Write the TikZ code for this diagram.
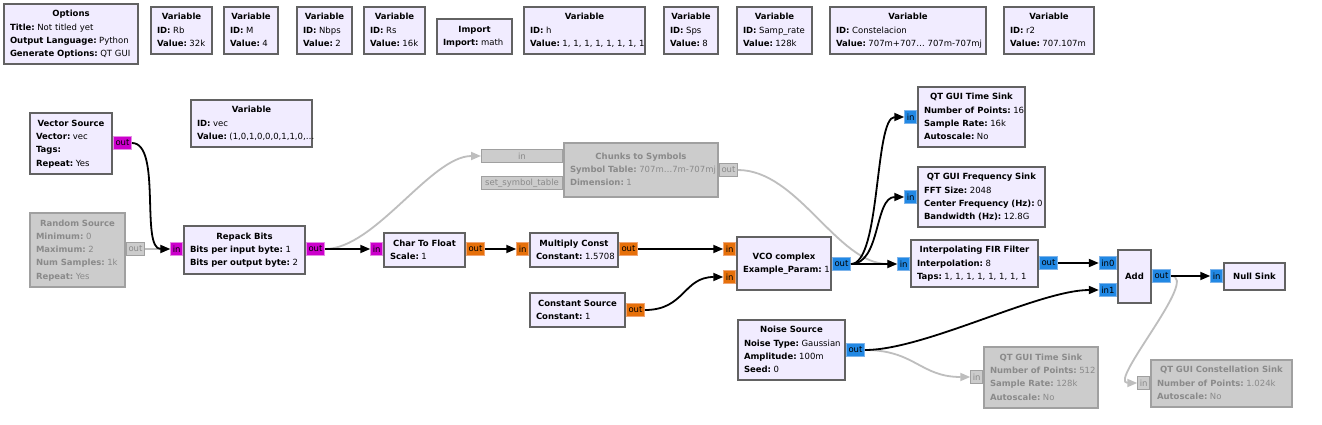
\documentclass[tikz,border=0pt]{standalone}
\usepackage{fontspec}
\setmainfont{DejaVu Sans}
\usetikzlibrary{arrows.meta}
\definecolor{blkfill}{RGB}{241,236,255}
\definecolor{blkline}{RGB}{98,98,98}
\definecolor{disfill}{RGB}{204,204,204}
\definecolor{disline}{RGB}{160,160,160}
\definecolor{distext}{RGB}{138,138,138}
\definecolor{bytefill}{RGB}{204,0,204}
\definecolor{byteline}{RGB}{228,140,228}
\definecolor{fltfill}{RGB}{230,112,10}
\definecolor{fltline}{RGB}{240,165,115}
\definecolor{cpxfill}{RGB}{33,136,228}
\definecolor{cpxline}{RGB}{125,180,235}
\definecolor{diswire}{RGB}{190,190,190}
\newcommand{\ttl}[1]{\makebox[\linewidth]{\textbf{#1}\strut}}
\newcommand{\kv}[2]{\mbox{\textbf{#1:}\hspace{2.5pt}#2}\strut}
\tikzstyle{every node}=[font=\fontsize{8.5}{13.3}\selectfont]
\tikzstyle{blk}=[draw=blkline, line width=2pt, fill=blkfill, anchor=north west, inner xsep=6pt, inner ysep=0pt, align=left]
\tikzstyle{dis}=[draw=disline, fill=disfill, text=distext]
\tikzstyle{prt}=[draw, line width=1pt, inner xsep=2pt, inner ysep=0pt, minimum height=13pt]
\tikzstyle{bport}=[prt, fill=bytefill, draw=byteline]
\tikzstyle{fport}=[prt, fill=fltfill, draw=fltline]
\tikzstyle{cport}=[prt, fill=cpxfill, draw=cpxline]
\tikzstyle{dport}=[prt, fill=disfill, draw=disline, text=distext]
\tikzstyle{wire}=[line width=1.8pt, -{Triangle[length=10pt,width=8pt]}]
\tikzstyle{diswire}=[wire, color=diswire]

\begin{document}
\begin{tikzpicture}[x=1pt,y=-1pt]
	\path[fill=white, use as bounding box] (0,0) rectangle (1322,425);
	% top row
	\node[blk, minimum width=134pt, minimum height=60pt, text width=122pt] (opts) at (3,3) {\ttl{Options}\\\kv{Title}{Not titled yet}\\\kv{Output Language}{Python}\\\kv{Generate Options}{QT GUI}};
	\node[blk, minimum width=61pt, minimum height=47pt, text width=49pt] (rb) at (150,6) {\ttl{Variable}\\\kv{ID}{Rb}\\\kv{Value}{32k}};
	\node[blk, minimum width=54pt, minimum height=47pt, text width=42pt] (m) at (223,6) {\ttl{Variable}\\\kv{ID}{M}\\\kv{Value}{4}};
	\node[blk, minimum width=55pt, minimum height=47pt, text width=43pt] (nbps) at (296,6) {\ttl{Variable}\\\kv{ID}{Nbps}\\\kv{Value}{2}};
	\node[blk, minimum width=61pt, minimum height=47pt, text width=49pt] (rs) at (363,6) {\ttl{Variable}\\\kv{ID}{Rs}\\\kv{Value}{16k}};
	\node[blk, minimum width=75pt, minimum height=35pt, text width=63pt] (imp) at (436,18) {\ttl{Import}\\\kv{Import}{math}};
	\node[blk, minimum width=121pt, minimum height=47pt, text width=109pt] (h) at (523,6) {\ttl{Variable}\\\kv{ID}{h}\\\kv{Value}{1, 1, 1, 1, 1, 1, 1, 1}};
	\node[blk, minimum width=54pt, minimum height=47pt, text width=42pt] (sps) at (663,6) {\ttl{Variable}\\\kv{ID}{Sps}\\\kv{Value}{8}};
	\node[blk, minimum width=75pt, minimum height=47pt, text width=63pt] (samp) at (736,6) {\ttl{Variable}\\\kv{ID}{Samp\_rate}\\\kv{Value}{128k}};
	\node[blk, minimum width=156pt, minimum height=47pt, text width=144pt] (const) at (829,6) {\ttl{Variable}\\\kv{ID}{Constelacion}\\\kv{Value}{707m+707… 707m-707mj}};
	\node[blk, minimum width=90pt, minimum height=47pt, text width=78pt] (r2) at (1003,6) {\ttl{Variable}\\\kv{ID}{r2}\\\kv{Value}{707.107m}};
	\node[blk, minimum width=121pt, minimum height=47pt, text width=109pt] (vec) at (190,99) {\ttl{Variable}\\\kv{ID}{vec}\\\kv{Value}{(1,0,1,0,0,0,1,1,0,…}};
	% blocks
	\node[blk, minimum width=82pt, minimum height=61pt, text width=70pt] (vecsrc) at (29,112) {\ttl{Vector Source}\\\kv{Vector}{vec}\\\kv{Tags}{}\\\kv{Repeat}{Yes}};
	\node[blk, dis, minimum width=95pt, minimum height=74pt, text width=83pt] (rndsrc) at (29,212) {\ttl{Random Source}\\\kv{Minimum}{0}\\\kv{Maximum}{2}\\\kv{Num Samples}{1k}\\\kv{Repeat}{Yes}};
	\node[blk, minimum width=121pt, minimum height=48pt, text width=109pt] (repack) at (183,225) {\ttl{Repack Bits}\\\kv{Bits per input byte}{1}\\\kv{Bits per output byte}{2}};
	\node[blk, dis, minimum width=154pt, minimum height=54pt, text width=142pt] (chunks) at (563,142) {\ttl{Chunks to Symbols}\\\kv{Symbol Table}{707m…7m-707mj}\\\kv{Dimension}{1}};
	\node[blk, minimum width=81pt, minimum height=34pt, text width=69pt] (ctof) at (383,232) {\ttl{Char To Float}\\\kv{Scale}{1}};
	\node[blk, minimum width=88pt, minimum height=34pt, text width=76pt] (mult) at (529,232) {\ttl{Multiply Const}\\\kv{Constant}{1.5708}};
	\node[blk, minimum width=95pt, minimum height=34pt, text width=83pt] (cnst) at (529,292) {\ttl{Constant Source}\\\kv{Constant}{1}};
	\node[blk, minimum width=94pt, minimum height=53pt, text width=82pt] (vco) at (736,236) {\ttl{VCO complex}\\\kv{Example\_Param}{1}};
	\node[blk, minimum width=107pt, minimum height=60pt, text width=95pt] (tsink) at (917,86) {\ttl{QT GUI Time Sink}\\\kv{Number of Points}{16}\\\kv{Sample Rate}{16k}\\\kv{Autoscale}{No}};
	\node[blk, minimum width=127pt, minimum height=60pt, text width=115pt] (fsink) at (917,166) {\ttl{QT GUI Frequency Sink}\\\kv{FFT Size}{2048}\\\kv{Center Frequency (Hz)}{0}\\\kv{Bandwidth (Hz)}{12.8G}};
	\node[blk, minimum width=127pt, minimum height=47pt, text width=115pt] (fir) at (910,239) {\ttl{Interpolating FIR Filter}\\\kv{Interpolation}{8}\\\kv{Taps}{1, 1, 1, 1, 1, 1, 1, 1}};
	\node[blk, minimum width=33pt, minimum height=53pt, text width=21pt] (add) at (1117,249) {\ttl{Add}};
	\node[blk, minimum width=61pt, minimum height=27pt, text width=49pt] (nsink) at (1223,262) {\ttl{Null Sink}};
	\node[blk, minimum width=107pt, minimum height=60pt, text width=95pt] (noise) at (737,319) {\ttl{Noise Source}\\\kv{Noise Type}{Gaussian}\\\kv{Amplitude}{100m}\\\kv{Seed}{0}};
	\node[blk, dis, minimum width=114pt, minimum height=61pt, text width=102pt] (tsinkb) at (983,346) {\ttl{QT GUI Time Sink}\\\kv{Number of Points}{512}\\\kv{Sample Rate}{128k}\\\kv{Autoscale}{No}};
	\node[blk, dis, minimum width=141pt, minimum height=47pt, text width=129pt] (csink) at (1150,359) {\ttl{QT GUI Constellation Sink}\\\kv{Number of Points}{1.024k}\\\kv{Autoscale}{No}};
	% ports
	\node[bport, anchor=west] (vecsrc-out) at (vecsrc.east |- 0,143) {out};
	\node[dport, anchor=west] (rndsrc-out) at (rndsrc.east |- 0,249) {out};
	\node[bport, anchor=east] (repack-in) at (repack.west |- 0,249) {in};
	\node[bport, anchor=west] (repack-out) at (repack.east |- 0,249) {out};
	\node[dport, anchor=east, minimum width=81pt] (chunks-in) at (chunks.west |- 0,156) {in};
	\node[dport, anchor=east, minimum width=81pt] (chunks-tab) at (chunks.west |- 0,183) {set\_symbol\_table};
	\node[dport, anchor=west] (chunks-out) at (chunks.east |- 0,170) {out};
	\node[bport, anchor=east] (ctof-in) at (ctof.west |- 0,249) {in};
	\node[fport, anchor=west] (ctof-out) at (ctof.east |- 0,249) {out};
	\node[fport, anchor=east] (mult-in) at (mult.west |- 0,249) {in};
	\node[fport, anchor=west] (mult-out) at (mult.east |- 0,249) {out};
	\node[fport, anchor=west] (cnst-out) at (cnst.east |- 0,310) {out};
	\node[fport, anchor=east] (vco-in0) at (vco.west |- 0,249) {in};
	\node[fport, anchor=east] (vco-in1) at (vco.west |- 0,277) {in};
	\node[cport, anchor=west] (vco-out) at (vco.east |- 0,264) {out};
	\node[cport, anchor=east] (tsink-in) at (tsink.west |- 0,117) {in};
	\node[cport, anchor=east] (fsink-in) at (fsink.west |- 0,197) {in};
	\node[cport, anchor=east] (fir-in) at (fir.west |- 0,264) {in};
	\node[cport, anchor=west] (fir-out) at (fir.east |- 0,263) {out};
	\node[cport, anchor=east] (add-in0) at (add.west |- 0,263) {in0};
	\node[cport, anchor=east] (add-in1) at (add.west |- 0,290) {in1};
	\node[cport, anchor=west] (add-out) at (add.east |- 0,276) {out};
	\node[cport, anchor=east] (nsink-in) at (nsink.west |- 0,276) {in};
	\node[cport, anchor=west] (noise-out) at (noise.east |- 0,350) {out};
	\node[dport, anchor=east] (tsinkb-in) at (tsinkb.west |- 0,377) {in};
	\node[dport, anchor=east] (csink-in) at (csink.west |- 0,383) {in};
	% disabled connections
	\draw[diswire] (rndsrc-out.east) -- (repack-in.west);
	\draw[diswire] (repack-out.east) .. controls +(50,0) and +(-50,0) .. (chunks-in.west);
	\draw[diswire] (chunks-out.east) .. controls +(60,0) and +(-60,0) .. (fir-in.west);
	\draw[diswire] (noise-out.east) .. controls +(50,0) and +(-50,0) .. (tsinkb-in.west);
	\draw[diswire] (add-out.east) .. controls +(30,0) and +(-30,0) .. (csink-in.west);
	% connections
	\draw[wire] (vecsrc-out.east) .. controls +(30,0) and +(-30,0) .. (repack-in.west);
	\draw[wire] (repack-out.east) -- (ctof-in.west);
	\draw[wire] (ctof-out.east) -- (mult-in.west);
	\draw[wire] (mult-out.east) -- (vco-in0.west);
	\draw[wire] (cnst-out.east) .. controls +(40,0) and +(-40,0) .. (vco-in1.west);
	\draw[wire] (vco-out.east) .. controls +(30,0) and +(-30,0) .. (tsink-in.west);
	\draw[wire] (vco-out.east) .. controls +(30,0) and +(-30,0) .. (fsink-in.west);
	\draw[wire] (vco-out.east) -- (fir-in.west);
	\draw[wire] (fir-out.east) -- (add-in0.west);
	\draw[wire] (noise-out.east) .. controls +(60,0) and +(-60,0) .. (add-in1.west);
	\draw[wire] (add-out.east) -- (nsink-in.west);
\end{tikzpicture}
\end{document}
